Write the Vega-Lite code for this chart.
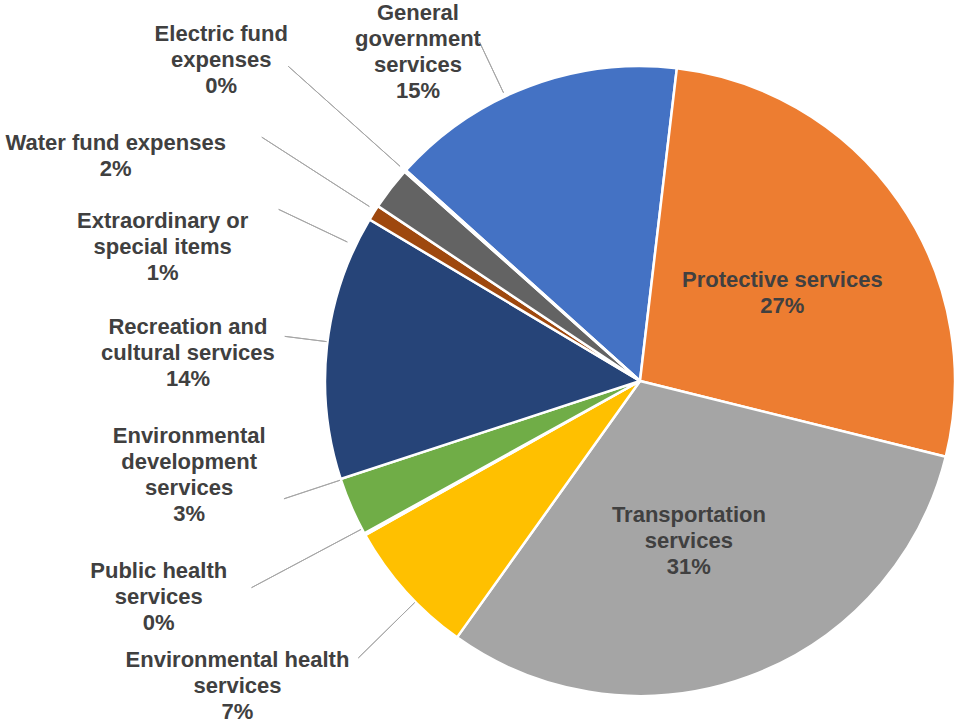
{
  "$schema": "https://vega.github.io/schema/vega-lite/v6.json",
  "width": 630,
  "height": 630,
  "autosize": {"type": "none"},
  "padding": {"left": 325, "top": 66, "right": 0, "bottom": 28},
  "background": "white",
  "config": {"view": {"stroke": null}},
  "data": {
    "values": [
      {"category": "General government services", "label": "General\ngovernment\nservices", "value": 15.2},
      {"category": "Protective services", "label": "Protective services", "value": 27.0},
      {"category": "Transportation services", "label": "Transportation\nservices", "value": 31.0},
      {"category": "Environmental health services", "label": "Environmental health\nservices", "value": 7.0},
      {"category": "Public health services", "label": "Public health\nservices", "value": 0.1},
      {"category": "Environmental development services", "label": "Environmental\ndevelopment\nservices", "value": 3.0},
      {"category": "Recreation and cultural services", "label": "Recreation and\ncultural services", "value": 13.6},
      {"category": "Extraordinary or special items", "label": "Extraordinary or\nspecial items", "value": 0.8},
      {"category": "Water fund expenses", "label": "Water fund expenses", "value": 2.2},
      {"category": "Electric fund expenses", "label": "Electric fund\nexpenses", "value": 0.1}
    ]
  },
  "transform": [
    {"stack": "value", "groupby": [], "as": ["v0", "v1"]},
    {"calculate": "(datum.v0 + datum.v1) / 2", "as": "mid"},
    {"calculate": "datum.label + '\\n' + format(datum.value / 100, '.0%')", "as": "labelText"}
  ],
  "layer": [
    {
      "mark": {"type": "arc", "stroke": "white", "strokeWidth": 2.5},
      "encoding": {
        "theta": {"field": "v0", "type": "quantitative", "stack": null, "scale": {"domain": [0, 100], "range": [5.44543, 11.72862]}},
        "theta2": {"field": "v1"},
        "color": {
          "field": "category", "type": "nominal", "legend": null,
          "scale": {
            "domain": ["General government services", "Protective services", "Transportation services", "Environmental health services", "Public health services", "Environmental development services", "Recreation and cultural services", "Extraordinary or special items", "Water fund expenses", "Electric fund expenses"],
            "range": ["#4472C4", "#ED7D31", "#A5A5A5", "#FFC000", "#5B9BD5", "#70AD47", "#264478", "#9E480E", "#636363", "#997300"]
          }
        }
      }
    },
    {
      "transform": [{"filter": "datum.category === 'General government services'"}],
      "mark": {"type": "arc", "filled": false, "stroke": "#A6A6A6", "strokeWidth": 1, "innerRadius": 319, "outerRadius": 375, "thetaOffset": -0.082, "theta2Offset": -0.082},
      "encoding": {"theta": {"field": "mid", "type": "quantitative", "stack": null, "scale": {"domain": [0, 100], "range": [5.44543, 11.72862]}}, "theta2": {"field": "mid"}}
    },
    {
      "transform": [{"filter": "datum.category === 'Electric fund expenses'"}],
      "mark": {"type": "arc", "filled": false, "stroke": "#A6A6A6", "strokeWidth": 1, "innerRadius": 322, "outerRadius": 472, "thetaOffset": 0, "theta2Offset": 0},
      "encoding": {"theta": {"field": "mid", "type": "quantitative", "stack": null, "scale": {"domain": [0, 100], "range": [5.44543, 11.72862]}}, "theta2": {"field": "mid"}}
    },
    {
      "transform": [{"filter": "datum.category === 'Water fund expenses'"}],
      "mark": {"type": "arc", "filled": false, "stroke": "#A6A6A6", "strokeWidth": 1, "innerRadius": 322, "outerRadius": 450, "thetaOffset": -0.085, "theta2Offset": -0.085},
      "encoding": {"theta": {"field": "mid", "type": "quantitative", "stack": null, "scale": {"domain": [0, 100], "range": [5.44543, 11.72862]}}, "theta2": {"field": "mid"}}
    },
    {
      "transform": [{"filter": "datum.category === 'Extraordinary or special items'"}],
      "mark": {"type": "arc", "filled": false, "stroke": "#A6A6A6", "strokeWidth": 1, "innerRadius": 324, "outerRadius": 400, "thetaOffset": -0.12, "theta2Offset": -0.12},
      "encoding": {"theta": {"field": "mid", "type": "quantitative", "stack": null, "scale": {"domain": [0, 100], "range": [5.44543, 11.72862]}}, "theta2": {"field": "mid"}}
    },
    {
      "transform": [{"filter": "datum.category === 'Recreation and cultural services'"}],
      "mark": {"type": "arc", "filled": false, "stroke": "#A6A6A6", "strokeWidth": 1, "innerRadius": 316, "outerRadius": 358, "thetaOffset": 0.014, "theta2Offset": 0.014},
      "encoding": {"theta": {"field": "mid", "type": "quantitative", "stack": null, "scale": {"domain": [0, 100], "range": [5.44543, 11.72862]}}, "theta2": {"field": "mid"}}
    },
    {
      "transform": [{"filter": "datum.category === 'Environmental development services'"}],
      "mark": {"type": "arc", "filled": false, "stroke": "#A6A6A6", "strokeWidth": 1, "innerRadius": 316, "outerRadius": 375, "thetaOffset": 0.091, "theta2Offset": 0.091},
      "encoding": {"theta": {"field": "mid", "type": "quantitative", "stack": null, "scale": {"domain": [0, 100], "range": [5.44543, 11.72862]}}, "theta2": {"field": "mid"}}
    },
    {
      "transform": [{"filter": "datum.category === 'Public health services'"}],
      "mark": {"type": "arc", "filled": false, "stroke": "#A6A6A6", "strokeWidth": 1, "innerRadius": 316, "outerRadius": 440, "thetaOffset": 0.019, "theta2Offset": 0.019},
      "encoding": {"theta": {"field": "mid", "type": "quantitative", "stack": null, "scale": {"domain": [0, 100], "range": [5.44543, 11.72862]}}, "theta2": {"field": "mid"}}
    },
    {
      "transform": [{"filter": "datum.category === 'Environmental health services'"}],
      "mark": {"type": "arc", "filled": false, "stroke": "#A6A6A6", "strokeWidth": 1, "innerRadius": 316, "outerRadius": 395, "thetaOffset": -0.046, "theta2Offset": -0.046},
      "encoding": {"theta": {"field": "mid", "type": "quantitative", "stack": null, "scale": {"domain": [0, 100], "range": [5.44543, 11.72862]}}, "theta2": {"field": "mid"}}
    },
    {
      "transform": [{"filter": "datum.category === 'General government services'"}],
      "mark": {"type": "text", "radius": 315, "dx": -111, "dy": -73, "align": "center", "baseline": "middle", "lineBreak": "\n", "font": "Liberation Sans", "fontWeight": "bold", "fontSize": 22, "lineHeight": 26, "color": "#404040"},
      "encoding": {"theta": {"field": "mid", "type": "quantitative", "stack": null, "scale": {"domain": [0, 100], "range": [5.44543, 11.72862]}}, "text": {"field": "labelText"}}
    },
    {
      "transform": [{"filter": "datum.category === 'Electric fund expenses'"}],
      "mark": {"type": "text", "radius": 315, "dx": -184, "dy": -137, "align": "center", "baseline": "middle", "lineBreak": "\n", "font": "Liberation Sans", "fontWeight": "bold", "fontSize": 22, "lineHeight": 26, "color": "#404040"},
      "encoding": {"theta": {"field": "mid", "type": "quantitative", "stack": null, "scale": {"domain": [0, 100], "range": [5.44543, 11.72862]}}, "text": {"field": "labelText"}}
    },
    {
      "transform": [{"filter": "datum.category === 'Water fund expenses'"}],
      "mark": {"type": "text", "radius": 315, "dx": -275, "dy": -45, "align": "center", "baseline": "middle", "lineBreak": "\n", "font": "Liberation Sans", "fontWeight": "bold", "fontSize": 22, "lineHeight": 26, "color": "#404040"},
      "encoding": {"theta": {"field": "mid", "type": "quantitative", "stack": null, "scale": {"domain": [0, 100], "range": [5.44543, 11.72862]}}, "text": {"field": "labelText"}}
    },
    {
      "transform": [{"filter": "datum.category === 'Extraordinary or special items'"}],
      "mark": {"type": "text", "radius": 315, "dx": -211, "dy": 8, "align": "center", "baseline": "middle", "lineBreak": "\n", "font": "Liberation Sans", "fontWeight": "bold", "fontSize": 22, "lineHeight": 26, "color": "#404040"},
      "encoding": {"theta": {"field": "mid", "type": "quantitative", "stack": null, "scale": {"domain": [0, 100], "range": [5.44543, 11.72862]}}, "text": {"field": "labelText"}}
    },
    {
      "transform": [{"filter": "datum.category === 'Recreation and cultural services'"}],
      "mark": {"type": "text", "radius": 315, "dx": -139, "dy": -19, "align": "center", "baseline": "middle", "lineBreak": "\n", "font": "Liberation Sans", "fontWeight": "bold", "fontSize": 22, "lineHeight": 26, "color": "#404040"},
      "encoding": {"theta": {"field": "mid", "type": "quantitative", "stack": null, "scale": {"domain": [0, 100], "range": [5.44543, 11.72862]}}, "text": {"field": "labelText"}}
    },
    {
      "transform": [{"filter": "datum.category === 'Environmental development services'"}],
      "mark": {"type": "text", "radius": 315, "dx": -162, "dy": -71, "align": "center", "baseline": "middle", "lineBreak": "\n", "font": "Liberation Sans", "fontWeight": "bold", "fontSize": 22, "lineHeight": 26, "color": "#404040"},
      "encoding": {"theta": {"field": "mid", "type": "quantitative", "stack": null, "scale": {"domain": [0, 100], "range": [5.44543, 11.72862]}}, "text": {"field": "labelText"}}
    },
    {
      "transform": [{"filter": "datum.category === 'Public health services'"}],
      "mark": {"type": "text", "radius": 315, "dx": -206, "dy": 37, "align": "center", "baseline": "middle", "lineBreak": "\n", "font": "Liberation Sans", "fontWeight": "bold", "fontSize": 22, "lineHeight": 26, "color": "#404040"},
      "encoding": {"theta": {"field": "mid", "type": "quantitative", "stack": null, "scale": {"domain": [0, 100], "range": [5.44543, 11.72862]}}, "text": {"field": "labelText"}}
    },
    {
      "transform": [{"filter": "datum.category === 'Environmental health services'"}],
      "mark": {"type": "text", "radius": 315, "dx": -168, "dy": 69, "align": "center", "baseline": "middle", "lineBreak": "\n", "font": "Liberation Sans", "fontWeight": "bold", "fontSize": 22, "lineHeight": 26, "color": "#404040"},
      "encoding": {"theta": {"field": "mid", "type": "quantitative", "stack": null, "scale": {"domain": [0, 100], "range": [5.44543, 11.72862]}}, "text": {"field": "labelText"}}
    },
    {
      "transform": [{"filter": "datum.category === 'Protective services'"}],
      "mark": {"type": "text", "radius": 167, "dx": 5, "dy": -6, "align": "center", "baseline": "middle", "lineBreak": "\n", "font": "Liberation Sans", "fontWeight": "bold", "fontSize": 22, "lineHeight": 26, "color": "#404040"},
      "encoding": {"theta": {"field": "mid", "type": "quantitative", "stack": null, "scale": {"domain": [0, 100], "range": [5.44543, 11.72862]}}, "text": {"field": "labelText"}}
    },
    {
      "transform": [{"filter": "datum.category === 'Transportation services'"}],
      "mark": {"type": "text", "radius": 167, "dx": -9, "dy": -23, "align": "center", "baseline": "middle", "lineBreak": "\n", "font": "Liberation Sans", "fontWeight": "bold", "fontSize": 22, "lineHeight": 26, "color": "#404040"},
      "encoding": {"theta": {"field": "mid", "type": "quantitative", "stack": null, "scale": {"domain": [0, 100], "range": [5.44543, 11.72862]}}, "text": {"field": "labelText"}}
    }
  ]
}
